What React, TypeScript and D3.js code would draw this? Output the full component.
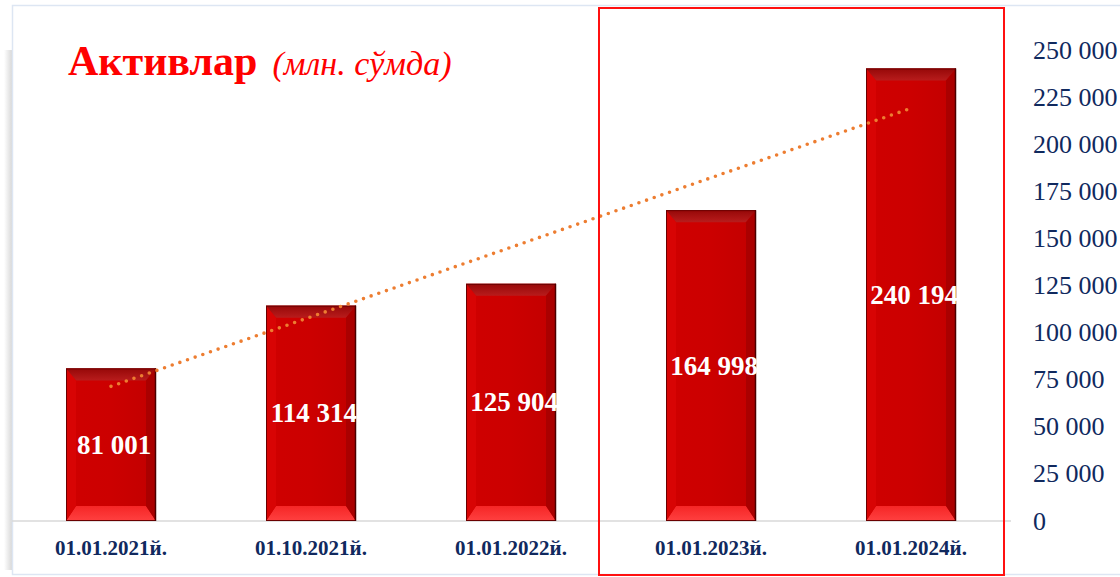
import React from "react";
import * as d3 from "d3";

const categories = ["01.01.2021й.", "01.10.2021й.", "01.01.2022й.", "01.01.2023й.", "01.01.2024й."];
const values = [81001, 114314, 125904, 164998, 240194];
const yTicks = [0, 25000, 50000, 75000, 100000, 125000, 150000, 175000, 200000, 225000, 250000];
const highlighted = ["01.01.2023й.", "01.01.2024й."];

const W = 1120;
const H = 577;
const FONT = "'Liberation Serif', 'Times New Roman', serif";
const NAVY = "#10295e";

const fmt = d3.formatLocale({ decimal: ".", thousands: " ", grouping: [3], currency: ["", ""] }).format(",d");

export default function App() {
  const x = d3.scaleBand<string>().domain(categories).range([11, 1011]).paddingInner(0.55).paddingOuter(0.275);
  const y = d3.scaleLinear().domain([0, 250000]).range([521, 50]);
  const bw = x.bandwidth();

  // linear trendline (least squares)
  const n = values.length;
  const xs = values.map((_, i) => i + 1);
  const mx = d3.mean(xs) as number;
  const my = d3.mean(values) as number;
  const slope = d3.sum(xs.map((xi, i) => (xi - mx) * (values[i] - my))) / d3.sum(xs.map((xi) => (xi - mx) ** 2));
  const icpt = my - slope * mx;
  const trendPts: [number, number][] = categories.map((c, i) => [
    (x(c) as number) + bw / 2,
    y(icpt + slope * (i + 1)),
  ]);
  const trendPath = d3.line()([trendPts[0], trendPts[n - 1]]) as string;

  const hiX0 = (x(highlighted[0]) as number) - 67;
  const hiX1 = (x(highlighted[highlighted.length - 1]) as number) + bw + 48;

  return (
    <svg width={W} height={H} style={{ position: "absolute", left: 0, top: 0, background: "#fff" }}>
      <defs>
        <linearGradient id="shadowL" x1="0" x2="1">
          <stop offset="0" stopColor="#ffffff" />
          <stop offset="1" stopColor="#d8d8d8" />
        </linearGradient>
        <linearGradient id="topBev" x1="0" y1="0" x2="0" y2="1">
          <stop offset="0" stopColor="#960808" />
          <stop offset="1" stopColor="#b81c1c" />
        </linearGradient>
        <linearGradient id="botBev" x1="0" y1="0" x2="0" y2="1">
          <stop offset="0" stopColor="#f52626" />
          <stop offset="1" stopColor="#ff4040" />
        </linearGradient>
        <linearGradient id="face" x1="0" y1="0" x2="1" y2="0">
          <stop offset="0" stopColor="#cf0000" />
          <stop offset="0.5" stopColor="#cc0000" />
          <stop offset="1" stopColor="#c20000" />
        </linearGradient>
      </defs>
      {/* outer frame */}
      <rect x={4} y={50} width={8} height={520} fill="url(#shadowL)" />
      <rect x={12.5} y={5.5} width={1115} height={569} fill="#fff" stroke="#dde6f3" strokeWidth={1.5} />

      {/* title */}
      <text x={68} y={75} fill="#ff0000" fontFamily={FONT}>
        <tspan fontSize={42} fontWeight="bold">Активлар</tspan>
        <tspan fontSize={34} fontStyle="italic" dx={15}>(млн. сўмда)</tspan>
      </text>

      {/* baseline */}
      <line x1={12} x2={1011} y1={y(0)} y2={y(0)} stroke="#d9d9d9" strokeWidth={1.5} />

      {/* bars */}
      {categories.map((c, i) => {
        const x0 = x(c) as number;
        const x1 = x0 + bw;
        const y0 = y(values[i]);
        const y1 = y(0);
        const bx = 10;
        const by = 12;
        return (
          <g key={c}>
            <rect x={x0} y={y0} width={bw} height={y1 - y0} fill="url(#face)" />
            <polygon points={`${x0},${y0} ${x1},${y0} ${x1 - bx},${y0 + by} ${x0 + bx},${y0 + by}`} fill="url(#topBev)" />
            <polygon points={`${x0},${y1} ${x1},${y1} ${x1 - bx},${y1 - by - 3} ${x0 + bx},${y1 - by - 3}`} fill="url(#botBev)" />
            <polygon points={`${x0},${y0} ${x0 + bx},${y0 + by} ${x0 + bx},${y1 - by - 3} ${x0},${y1}`} fill="#d80404" />
            <polygon points={`${x1},${y0} ${x1 - bx},${y0 + by} ${x1 - bx},${y1 - by - 3} ${x1},${y1}`} fill="#aa0000" />
            <rect x={x0 + 0.5} y={y0 + 0.5} width={bw - 1} height={y1 - y0 - 1} fill="none" stroke="#6a0000" strokeWidth={1} />
            <line x1={x1 - 0.5} x2={x1 - 0.5} y1={y0} y2={y1} stroke="#4a0000" strokeWidth={1.5} />
          </g>
        );
      })}

      {/* trendline */}
      <path d={trendPath} fill="none" stroke="#ed7d31" strokeWidth={3.6} strokeLinecap="round" strokeDasharray="0 8.1" />

      {/* bar labels */}
      {categories.map((c, i) => (
        <text
          key={c}
          x={(x(c) as number) + bw / 2 + 3}
          y={(y(values[i]) + y(0)) / 2}
          textAnchor="middle"
          dominantBaseline="central"
          fill="#fff"
          fontFamily={FONT}
          fontWeight="bold"
          fontSize={27}
        >
          {fmt(values[i])}
        </text>
      ))}

      {/* category labels */}
      {categories.map((c) => (
        <text
          key={c}
          x={(x(c) as number) + bw / 2}
          y={548}
          textAnchor="middle"
          dominantBaseline="central"
          fill={NAVY}
          fontFamily={FONT}
          fontWeight="bold"
          fontSize={21}
        >
          {c}
        </text>
      ))}

      {/* right axis */}
      {yTicks.map((t) => (
        <text key={t} x={1033} y={y(t)} dominantBaseline="central" fill={NAVY} fontFamily={FONT} fontSize={26}>
          {fmt(t)}
        </text>
      ))}

      {/* highlight box */}
      <rect x={hiX0} y={8} width={hiX1 - hiX0} height={567} fill="none" stroke="#ff1010" strokeWidth={2} />
    </svg>
  );
}
